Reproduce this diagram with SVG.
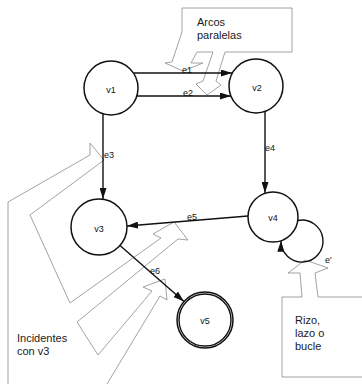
<svg xmlns="http://www.w3.org/2000/svg" width="362" height="384" viewBox="0 0 362 384">
  <style>
    .node { fill: #fff; stroke: #111; stroke-width: 1.5; }
    .edge { fill: none; stroke: #111; stroke-width: 1.4; }
    .call { fill: none; stroke: #8c8c8c; stroke-width: 0.8; stroke-linejoin: miter; }
    .lbl { font-family: "Liberation Sans", Arial, sans-serif; font-size: 9px; fill: #111; text-anchor: middle; }
    .elbl { font-family: "Liberation Sans", Arial, sans-serif; font-size: 9px; fill: #111; }
    .note { font-family: "Liberation Sans", Arial, sans-serif; font-size: 11px; fill: #1a1a1a; }
  </style>
  <defs>
    <marker id="arrow" markerUnits="userSpaceOnUse" markerWidth="11" markerHeight="7" refX="11" refY="3.5" orient="auto">
      <path d="M0,0 L11,3.5 L0,7 z" fill="#111"/>
    </marker>
  </defs>

  <!-- callout outlines and their notes -->
  <g id="callouts">
    <path class="call" d="M182,32 L182,8 L292,8 L292,52 L225,52 L216,81 L221,85 L207,95 L196,84 L203,81 L213,52 L197,52 L191,63 L203,63 L183,71 L165,63 L172,62 L182,32"/>
    <path class="call" d="M8,384 L8,202 L90,155 L90,143 L104,160 L92,169 L30,215 L70,303 L161,238 L153,234 L174,222 L188,240 L178,239 L77,322 L98,355 L152,291 L143,287 L165,279 L167,300 L160,296 L107,384"/>
    <path class="call" d="M362,297 L318,297 L315,273 L328,268 L305,260 L288,273 L300,273 L302,297 L282,297 L282,377 L362,377"/>
    <text class="note" x="197" y="26">Arcos</text>
    <text class="note" x="197" y="39">paralelas</text>
    <text class="note" x="17" y="342">Incidentes</text>
    <text class="note" x="17" y="355">con v3</text>
    <text class="note" x="295" y="324">Rizo,</text>
    <text class="note" x="295" y="337">lazo o</text>
    <text class="note" x="295" y="350">bucle</text>
  </g>

  <!-- connectors -->
  <g id="edges">
    <line class="edge" x1="134" y1="73" x2="232" y2="73" marker-end="url(#arrow)"/>
    <line class="edge" x1="137" y1="96" x2="231" y2="96" marker-end="url(#arrow)"/>
    <line class="edge" x1="103" y1="114" x2="103" y2="199" marker-end="url(#arrow)"/>
    <line class="edge" x1="265" y1="112" x2="265" y2="193" marker-end="url(#arrow)"/>
    <line class="edge" x1="248" y1="216" x2="127" y2="226" marker-end="url(#arrow)"/>
    <line class="edge" x1="120" y1="245.5" x2="184" y2="301.5" marker-end="url(#arrow)"/>
    <path class="edge" d="M297.8,220.5 A21,21 0 1 1 281,240.7" marker-end="url(#arrow)"/>
    <text class="elbl" x="182" y="73">e1</text>
    <text class="elbl" x="183" y="96">e2</text>
    <text class="elbl" x="104" y="158">e3</text>
    <text class="elbl" x="265" y="151">e4</text>
    <text class="elbl" x="187" y="220">e5</text>
    <text class="elbl" x="150" y="274">e6</text>
    <text class="elbl" x="325" y="263">e'</text>
  </g>

  <!-- vertices -->
  <g id="v1">
    <circle class="node" cx="111" cy="88" r="27"/>
    <text class="lbl" x="111" y="93">v1</text>
  </g>
  <g id="v2">
    <circle class="node" cx="256" cy="86" r="27"/>
    <text class="lbl" x="257" y="91">v2</text>
  </g>
  <g id="v3">
    <circle class="node" cx="99" cy="227" r="28"/>
    <text class="lbl" x="99" y="232">v3</text>
  </g>
  <g id="v4">
    <circle class="node" cx="273" cy="217" r="25"/>
    <text class="lbl" x="273" y="221">v4</text>
  </g>
  <g id="v5">
    <circle class="node" cx="205" cy="320" r="28" stroke-width="1.7"/>
    <circle cx="205" cy="320" r="26" fill="none" stroke="#111" stroke-width="1.4"/>
    <text class="lbl" x="205" y="324">v5</text>
  </g>
</svg>
